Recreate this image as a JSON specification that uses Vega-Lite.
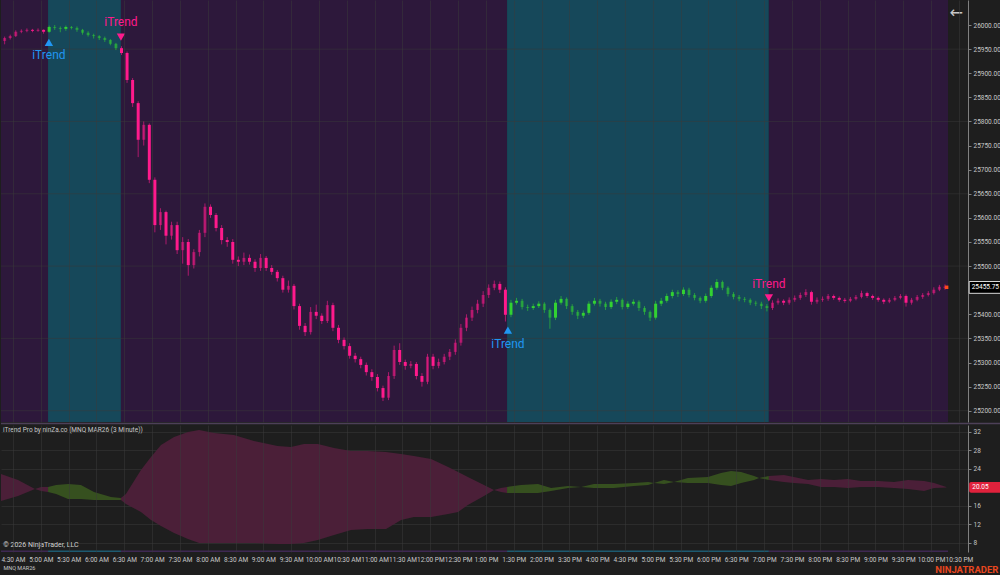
{
"$schema":"https://vega.github.io/schema/vega-lite/v6.json",
"background":"#1e1e1e",
"padding":0,
"spacing":3,
"bounds":"flush",
"config":{"view":{"stroke":null},"font":"Roboto","axis":{"labelOverlap":false}},
"datasets":{
"candles":[
{"b":-3,"o":25967,"h":25976,"l":25960,"c":25973,"t":"d"},
{"b":-1,"o":25973,"h":25980,"l":25970,"c":25977,"t":"d"},
{"b":1,"o":25977,"h":25989,"l":25975,"c":25986,"t":"d"},
{"b":3,"o":25986,"h":25991,"l":25983,"c":25988,"t":"d"},
{"b":5,"o":25988,"h":25993,"l":25985,"c":25990,"t":"d"},
{"b":7,"o":25990,"h":25992,"l":25985,"c":25988,"t":"d"},
{"b":9,"o":25988,"h":25993,"l":25986,"c":25990,"t":"d"},
{"b":11,"o":25990,"h":25991,"l":25982,"c":25986,"t":"d"},
{"b":13,"o":25986,"h":25999,"l":25984,"c":25996,"t":"u"},
{"b":15,"o":25996,"h":26000,"l":25990,"c":25994,"t":"u"},
{"b":17,"o":25994,"h":25997,"l":25985,"c":25992,"t":"u"},
{"b":19,"o":25992,"h":25999,"l":25988,"c":25996,"t":"u"},
{"b":21,"o":25996,"h":25998,"l":25991,"c":25994,"t":"u"},
{"b":23,"o":25994,"h":25997,"l":25986,"c":25990,"t":"u"},
{"b":25,"o":25990,"h":25992,"l":25980,"c":25984,"t":"u"},
{"b":27,"o":25984,"h":25987,"l":25976,"c":25979,"t":"u"},
{"b":29,"o":25979,"h":25982,"l":25972,"c":25977,"t":"u"},
{"b":31,"o":25977,"h":25979,"l":25969,"c":25973,"t":"u"},
{"b":33,"o":25973,"h":25976,"l":25965,"c":25969,"t":"u"},
{"b":35,"o":25969,"h":25971,"l":25958,"c":25961,"t":"u"},
{"b":37,"o":25961,"h":25963,"l":25948,"c":25952,"t":"u"},
{"b":39,"o":25952,"h":25956,"l":25938,"c":25942,"t":"d"},
{"b":41,"o":25942,"h":25945,"l":25880,"c":25886,"t":"d"},
{"b":43,"o":25886,"h":25890,"l":25830,"c":25838,"t":"d"},
{"b":45,"o":25838,"h":25842,"l":25726,"c":25762,"t":"d"},
{"b":47,"o":25762,"h":25800,"l":25750,"c":25793,"t":"d"},
{"b":49,"o":25793,"h":25796,"l":25672,"c":25679,"t":"d"},
{"b":51,"o":25679,"h":25684,"l":25570,"c":25585,"t":"d"},
{"b":53,"o":25585,"h":25620,"l":25575,"c":25612,"t":"d"},
{"b":55,"o":25612,"h":25615,"l":25545,"c":25563,"t":"d"},
{"b":57,"o":25563,"h":25592,"l":25555,"c":25585,"t":"d"},
{"b":59,"o":25585,"h":25592,"l":25525,"c":25533,"t":"d"},
{"b":61,"o":25533,"h":25560,"l":25505,"c":25550,"t":"d"},
{"b":63,"o":25550,"h":25556,"l":25480,"c":25502,"t":"d"},
{"b":65,"o":25502,"h":25535,"l":25495,"c":25529,"t":"d"},
{"b":67,"o":25529,"h":25575,"l":25520,"c":25569,"t":"d"},
{"b":69,"o":25569,"h":25630,"l":25560,"c":25623,"t":"d"},
{"b":71,"o":25623,"h":25628,"l":25600,"c":25606,"t":"d"},
{"b":73,"o":25606,"h":25610,"l":25572,"c":25579,"t":"d"},
{"b":75,"o":25579,"h":25585,"l":25545,"c":25554,"t":"d"},
{"b":77,"o":25554,"h":25560,"l":25540,"c":25550,"t":"d"},
{"b":79,"o":25550,"h":25556,"l":25505,"c":25513,"t":"d"},
{"b":81,"o":25513,"h":25520,"l":25500,"c":25509,"t":"d"},
{"b":83,"o":25509,"h":25528,"l":25502,"c":25517,"t":"d"},
{"b":85,"o":25517,"h":25524,"l":25503,"c":25509,"t":"d"},
{"b":87,"o":25509,"h":25514,"l":25488,"c":25496,"t":"d"},
{"b":89,"o":25496,"h":25525,"l":25490,"c":25517,"t":"d"},
{"b":91,"o":25517,"h":25521,"l":25490,"c":25496,"t":"d"},
{"b":93,"o":25496,"h":25502,"l":25482,"c":25488,"t":"d"},
{"b":95,"o":25488,"h":25492,"l":25468,"c":25475,"t":"d"},
{"b":97,"o":25475,"h":25480,"l":25445,"c":25451,"t":"d"},
{"b":99,"o":25451,"h":25470,"l":25445,"c":25459,"t":"d"},
{"b":101,"o":25459,"h":25463,"l":25410,"c":25417,"t":"d"},
{"b":103,"o":25417,"h":25422,"l":25368,"c":25376,"t":"d"},
{"b":105,"o":25376,"h":25382,"l":25355,"c":25363,"t":"d"},
{"b":107,"o":25363,"h":25415,"l":25358,"c":25405,"t":"d"},
{"b":109,"o":25405,"h":25420,"l":25390,"c":25397,"t":"d"},
{"b":111,"o":25397,"h":25402,"l":25380,"c":25386,"t":"d"},
{"b":113,"o":25386,"h":25428,"l":25382,"c":25419,"t":"d"},
{"b":115,"o":25419,"h":25424,"l":25365,"c":25372,"t":"d"},
{"b":117,"o":25372,"h":25378,"l":25340,"c":25347,"t":"d"},
{"b":119,"o":25347,"h":25352,"l":25327,"c":25334,"t":"d"},
{"b":121,"o":25334,"h":25340,"l":25308,"c":25314,"t":"d"},
{"b":123,"o":25314,"h":25320,"l":25300,"c":25307,"t":"d"},
{"b":125,"o":25307,"h":25312,"l":25288,"c":25295,"t":"d"},
{"b":127,"o":25295,"h":25300,"l":25273,"c":25280,"t":"d"},
{"b":129,"o":25280,"h":25286,"l":25262,"c":25270,"t":"d"},
{"b":131,"o":25270,"h":25276,"l":25240,"c":25247,"t":"d"},
{"b":133,"o":25247,"h":25252,"l":25220,"c":25227,"t":"d"},
{"b":135,"o":25227,"h":25280,"l":25222,"c":25272,"t":"d"},
{"b":137,"o":25272,"h":25335,"l":25266,"c":25326,"t":"d"},
{"b":139,"o":25326,"h":25340,"l":25295,"c":25301,"t":"d"},
{"b":141,"o":25301,"h":25306,"l":25285,"c":25293,"t":"d"},
{"b":143,"o":25293,"h":25303,"l":25288,"c":25297,"t":"d"},
{"b":145,"o":25297,"h":25301,"l":25265,"c":25272,"t":"d"},
{"b":147,"o":25272,"h":25278,"l":25250,"c":25260,"t":"d"},
{"b":149,"o":25260,"h":25318,"l":25255,"c":25312,"t":"d"},
{"b":151,"o":25312,"h":25318,"l":25286,"c":25293,"t":"d"},
{"b":153,"o":25293,"h":25308,"l":25288,"c":25301,"t":"d"},
{"b":155,"o":25301,"h":25318,"l":25296,"c":25312,"t":"d"},
{"b":157,"o":25312,"h":25328,"l":25305,"c":25322,"t":"d"},
{"b":159,"o":25322,"h":25348,"l":25316,"c":25341,"t":"d"},
{"b":161,"o":25341,"h":25380,"l":25335,"c":25372,"t":"d"},
{"b":163,"o":25372,"h":25400,"l":25365,"c":25393,"t":"d"},
{"b":165,"o":25393,"h":25416,"l":25386,"c":25409,"t":"d"},
{"b":167,"o":25409,"h":25430,"l":25402,"c":25422,"t":"d"},
{"b":169,"o":25422,"h":25448,"l":25415,"c":25440,"t":"d"},
{"b":171,"o":25440,"h":25462,"l":25434,"c":25455,"t":"d"},
{"b":173,"o":25455,"h":25470,"l":25450,"c":25463,"t":"d"},
{"b":175,"o":25463,"h":25468,"l":25444,"c":25451,"t":"d"},
{"b":177,"o":25451,"h":25456,"l":25385,"c":25399,"t":"d"},
{"b":179,"o":25399,"h":25430,"l":25394,"c":25424,"t":"u"},
{"b":181,"o":25424,"h":25434,"l":25420,"c":25428,"t":"u"},
{"b":183,"o":25428,"h":25432,"l":25410,"c":25415,"t":"u"},
{"b":185,"o":25415,"h":25420,"l":25407,"c":25413,"t":"u"},
{"b":187,"o":25413,"h":25422,"l":25409,"c":25417,"t":"u"},
{"b":189,"o":25417,"h":25427,"l":25413,"c":25422,"t":"u"},
{"b":191,"o":25422,"h":25425,"l":25403,"c":25409,"t":"u"},
{"b":193,"o":25409,"h":25412,"l":25370,"c":25393,"t":"u"},
{"b":195,"o":25393,"h":25430,"l":25388,"c":25424,"t":"u"},
{"b":197,"o":25424,"h":25438,"l":25420,"c":25432,"t":"u"},
{"b":199,"o":25432,"h":25435,"l":25411,"c":25417,"t":"u"},
{"b":201,"o":25417,"h":25421,"l":25399,"c":25405,"t":"u"},
{"b":203,"o":25405,"h":25409,"l":25390,"c":25397,"t":"u"},
{"b":205,"o":25397,"h":25408,"l":25392,"c":25403,"t":"u"},
{"b":207,"o":25403,"h":25427,"l":25399,"c":25422,"t":"u"},
{"b":209,"o":25422,"h":25434,"l":25418,"c":25428,"t":"u"},
{"b":211,"o":25428,"h":25432,"l":25416,"c":25422,"t":"u"},
{"b":213,"o":25422,"h":25426,"l":25409,"c":25415,"t":"u"},
{"b":215,"o":25415,"h":25431,"l":25411,"c":25426,"t":"u"},
{"b":217,"o":25426,"h":25436,"l":25421,"c":25430,"t":"u"},
{"b":219,"o":25430,"h":25433,"l":25410,"c":25415,"t":"u"},
{"b":221,"o":25415,"h":25427,"l":25411,"c":25422,"t":"u"},
{"b":223,"o":25422,"h":25431,"l":25418,"c":25426,"t":"u"},
{"b":225,"o":25426,"h":25429,"l":25407,"c":25413,"t":"u"},
{"b":227,"o":25413,"h":25417,"l":25399,"c":25405,"t":"u"},
{"b":229,"o":25405,"h":25408,"l":25386,"c":25393,"t":"u"},
{"b":231,"o":25393,"h":25428,"l":25389,"c":25422,"t":"u"},
{"b":233,"o":25422,"h":25434,"l":25417,"c":25428,"t":"u"},
{"b":235,"o":25428,"h":25443,"l":25424,"c":25438,"t":"u"},
{"b":237,"o":25438,"h":25451,"l":25433,"c":25446,"t":"u"},
{"b":239,"o":25446,"h":25450,"l":25436,"c":25442,"t":"u"},
{"b":241,"o":25442,"h":25456,"l":25438,"c":25451,"t":"u"},
{"b":243,"o":25451,"h":25455,"l":25435,"c":25440,"t":"u"},
{"b":245,"o":25440,"h":25444,"l":25429,"c":25434,"t":"u"},
{"b":247,"o":25434,"h":25437,"l":25423,"c":25428,"t":"u"},
{"b":249,"o":25428,"h":25443,"l":25424,"c":25438,"t":"u"},
{"b":251,"o":25438,"h":25460,"l":25434,"c":25455,"t":"u"},
{"b":253,"o":25455,"h":25473,"l":25451,"c":25467,"t":"u"},
{"b":255,"o":25467,"h":25470,"l":25450,"c":25455,"t":"u"},
{"b":257,"o":25455,"h":25458,"l":25437,"c":25442,"t":"u"},
{"b":259,"o":25442,"h":25446,"l":25431,"c":25436,"t":"u"},
{"b":261,"o":25436,"h":25440,"l":25427,"c":25432,"t":"u"},
{"b":263,"o":25432,"h":25436,"l":25425,"c":25430,"t":"u"},
{"b":265,"o":25430,"h":25433,"l":25419,"c":25424,"t":"u"},
{"b":267,"o":25424,"h":25428,"l":25417,"c":25422,"t":"u"},
{"b":269,"o":25422,"h":25426,"l":25411,"c":25417,"t":"u"},
{"b":271,"o":25417,"h":25421,"l":25406,"c":25413,"t":"u"},
{"b":273,"o":25413,"h":25429,"l":25409,"c":25424,"t":"d"},
{"b":275,"o":25424,"h":25433,"l":25420,"c":25428,"t":"d"},
{"b":277,"o":25428,"h":25431,"l":25419,"c":25424,"t":"d"},
{"b":279,"o":25424,"h":25435,"l":25420,"c":25430,"t":"d"},
{"b":281,"o":25430,"h":25439,"l":25426,"c":25434,"t":"d"},
{"b":283,"o":25434,"h":25445,"l":25430,"c":25440,"t":"d"},
{"b":285,"o":25440,"h":25452,"l":25436,"c":25446,"t":"d"},
{"b":287,"o":25446,"h":25449,"l":25420,"c":25426,"t":"d"},
{"b":289,"o":25426,"h":25435,"l":25422,"c":25430,"t":"d"},
{"b":291,"o":25430,"h":25437,"l":25426,"c":25432,"t":"d"},
{"b":293,"o":25432,"h":25442,"l":25428,"c":25438,"t":"d"},
{"b":295,"o":25438,"h":25441,"l":25430,"c":25434,"t":"d"},
{"b":297,"o":25434,"h":25437,"l":25426,"c":25430,"t":"d"},
{"b":299,"o":25430,"h":25434,"l":25424,"c":25428,"t":"d"},
{"b":301,"o":25428,"h":25436,"l":25425,"c":25432,"t":"d"},
{"b":303,"o":25432,"h":25440,"l":25429,"c":25436,"t":"d"},
{"b":305,"o":25436,"h":25449,"l":25433,"c":25444,"t":"d"},
{"b":307,"o":25444,"h":25447,"l":25434,"c":25438,"t":"d"},
{"b":309,"o":25438,"h":25441,"l":25430,"c":25434,"t":"d"},
{"b":311,"o":25434,"h":25437,"l":25426,"c":25430,"t":"d"},
{"b":313,"o":25430,"h":25433,"l":25421,"c":25426,"t":"d"},
{"b":315,"o":25426,"h":25434,"l":25423,"c":25430,"t":"d"},
{"b":317,"o":25430,"h":25438,"l":25427,"c":25434,"t":"d"},
{"b":319,"o":25434,"h":25442,"l":25431,"c":25438,"t":"d"},
{"b":321,"o":25438,"h":25441,"l":25416,"c":25424,"t":"d"},
{"b":323,"o":25424,"h":25434,"l":25420,"c":25430,"t":"d"},
{"b":325,"o":25430,"h":25440,"l":25427,"c":25436,"t":"d"},
{"b":327,"o":25436,"h":25444,"l":25432,"c":25440,"t":"d"},
{"b":329,"o":25440,"h":25448,"l":25437,"c":25444,"t":"d"},
{"b":331,"o":25444,"h":25456,"l":25441,"c":25451,"t":"d"},
{"b":333,"o":25451,"h":25461,"l":25448,"c":25457,"t":"d"},
{"b":335,"o":25457,"h":25462,"l":25451,"c":25455.75,"t":"d"}
],
"bands":[
{"s":-4.31,"e":12.6,"k":"d"},
{"s":12.6,"e":38.8,"k":"u"},
{"s":38.8,"e":177.6,"k":"d"},
{"s":177.6,"e":271.7,"k":"u"},
{"s":271.7,"e":336.1,"k":"d"}
],
"sig":[
{"b":12.9,"tri":25964,"lab":25938,"k":"u"},
{"b":38.8,"tri":25975,"lab":26006,"k":"d"},
{"b":177.9,"tri":25367,"lab":25338,"k":"u"},
{"b":271.7,"tri":25434,"lab":25463,"k":"d"}
],
"hgrid":[{"g":25200},{"g":25350},{"g":25500},{"g":25650},{"g":25800},{"g":25950}],
"ind":[
{"b":-4.31,"hi":22.92,"lo":17.08,"s":1,"k":"d"},
{"b":1.8,"hi":21.62,"lo":18.16,"s":1,"k":"d"},
{"b":7.9,"hi":19.68,"lo":19.68,"s":1,"k":"d"},
{"b":10.1,"hi":20.11,"lo":19.24,"s":1,"k":"d"},
{"b":12.6,"hi":20.11,"lo":19.03,"s":1,"k":"d"},
{"b":12.6,"hi":20.11,"lo":19.03,"s":2,"k":"u"},
{"b":15.5,"hi":20.54,"lo":18.59,"s":2,"k":"u"},
{"b":19.8,"hi":20.76,"lo":17.51,"s":2,"k":"u"},
{"b":24.4,"hi":20.54,"lo":17.51,"s":2,"k":"u"},
{"b":29.1,"hi":19.03,"lo":17.3,"s":2,"k":"u"},
{"b":35.2,"hi":17.95,"lo":17.3,"s":2,"k":"u"},
{"b":38.8,"hi":17.73,"lo":17.3,"s":2,"k":"u"},
{"b":38.8,"hi":17.73,"lo":17.3,"s":3,"k":"d"},
{"b":40.6,"hi":18.59,"lo":16.43,"s":3,"k":"d"},
{"b":46.0,"hi":23.78,"lo":14.7,"s":3,"k":"d"},
{"b":49.6,"hi":26.59,"lo":12.97,"s":3,"k":"d"},
{"b":53.2,"hi":29.19,"lo":11.68,"s":3,"k":"d"},
{"b":57.9,"hi":30.92,"lo":10.16,"s":3,"k":"d"},
{"b":62.9,"hi":32.0,"lo":8.86,"s":3,"k":"d"},
{"b":66.9,"hi":32.43,"lo":8.0,"s":3,"k":"d"},
{"b":72.3,"hi":31.78,"lo":8.0,"s":3,"k":"d"},
{"b":79.4,"hi":31.35,"lo":8.0,"s":3,"k":"d"},
{"b":86.6,"hi":30.05,"lo":8.0,"s":3,"k":"d"},
{"b":95.1,"hi":28.97,"lo":7.78,"s":3,"k":"d"},
{"b":99.9,"hi":28.76,"lo":7.78,"s":3,"k":"d"},
{"b":104.6,"hi":29.41,"lo":8.0,"s":3,"k":"d"},
{"b":109.6,"hi":29.41,"lo":8.65,"s":3,"k":"d"},
{"b":115.4,"hi":28.54,"lo":9.73,"s":3,"k":"d"},
{"b":121.5,"hi":27.89,"lo":10.81,"s":3,"k":"d"},
{"b":127.6,"hi":27.89,"lo":11.03,"s":3,"k":"d"},
{"b":134.1,"hi":27.68,"lo":11.03,"s":3,"k":"d"},
{"b":139.5,"hi":27.24,"lo":12.97,"s":3,"k":"d"},
{"b":144.1,"hi":26.81,"lo":13.62,"s":3,"k":"d"},
{"b":150.3,"hi":26.16,"lo":13.62,"s":3,"k":"d"},
{"b":156.4,"hi":24.43,"lo":14.27,"s":3,"k":"d"},
{"b":160.0,"hi":23.35,"lo":14.7,"s":3,"k":"d"},
{"b":163.5,"hi":22.27,"lo":16.22,"s":3,"k":"d"},
{"b":169.3,"hi":20.54,"lo":18.16,"s":3,"k":"d"},
{"b":172.9,"hi":19.46,"lo":19.46,"s":3,"k":"d"},
{"b":175.4,"hi":19.89,"lo":19.03,"s":3,"k":"d"},
{"b":177.6,"hi":20.11,"lo":18.81,"s":3,"k":"d"},
{"b":177.6,"hi":20.11,"lo":18.81,"s":4,"k":"u"},
{"b":182.6,"hi":20.54,"lo":18.81,"s":4,"k":"u"},
{"b":188.7,"hi":20.76,"lo":18.81,"s":4,"k":"u"},
{"b":193.4,"hi":19.89,"lo":19.24,"s":4,"k":"u"},
{"b":199.5,"hi":20.32,"lo":19.89,"s":4,"k":"u"},
{"b":204.2,"hi":20.11,"lo":20.11,"s":4,"k":"u"},
{"b":208.8,"hi":20.76,"lo":19.89,"s":4,"k":"u"},
{"b":216.0,"hi":20.76,"lo":19.89,"s":4,"k":"u"},
{"b":223.2,"hi":20.97,"lo":20.32,"s":4,"k":"u"},
{"b":228.3,"hi":21.19,"lo":20.54,"s":4,"k":"u"},
{"b":230.4,"hi":20.97,"lo":20.97,"s":4,"k":"u"},
{"b":234.0,"hi":21.62,"lo":20.76,"s":4,"k":"u"},
{"b":237.6,"hi":21.19,"lo":21.19,"s":4,"k":"u"},
{"b":242.6,"hi":22.05,"lo":20.97,"s":4,"k":"u"},
{"b":249.8,"hi":22.27,"lo":20.97,"s":4,"k":"u"},
{"b":254.5,"hi":23.14,"lo":20.54,"s":4,"k":"u"},
{"b":258.1,"hi":23.57,"lo":20.32,"s":4,"k":"u"},
{"b":261.7,"hi":23.35,"lo":20.97,"s":4,"k":"u"},
{"b":266.4,"hi":22.49,"lo":21.62,"s":4,"k":"u"},
{"b":268.2,"hi":22.05,"lo":22.05,"s":4,"k":"u"},
{"b":271.7,"hi":22.49,"lo":21.62,"s":4,"k":"u"},
{"b":271.7,"hi":22.49,"lo":21.62,"s":5,"k":"d"},
{"b":277.1,"hi":22.7,"lo":21.19,"s":5,"k":"d"},
{"b":280.7,"hi":22.27,"lo":20.97,"s":5,"k":"d"},
{"b":285.8,"hi":21.62,"lo":20.76,"s":5,"k":"d"},
{"b":290.4,"hi":21.84,"lo":20.11,"s":5,"k":"d"},
{"b":295.1,"hi":21.62,"lo":20.11,"s":5,"k":"d"},
{"b":300.1,"hi":21.84,"lo":19.89,"s":5,"k":"d"},
{"b":304.8,"hi":21.41,"lo":20.11,"s":5,"k":"d"},
{"b":311.0,"hi":21.41,"lo":20.11,"s":5,"k":"d"},
{"b":316.7,"hi":21.19,"lo":19.89,"s":5,"k":"d"},
{"b":321.7,"hi":21.62,"lo":19.68,"s":5,"k":"d"},
{"b":327.5,"hi":21.41,"lo":19.24,"s":5,"k":"d"},
{"b":331.1,"hi":20.97,"lo":19.89,"s":5,"k":"d"},
{"b":335.5,"hi":20.1,"lo":20.0,"s":5,"k":"d"}
]
},
"vconcat":[
{
"width":967,"height":422,
"layer":[
{"data":{"name":"bands"},"mark":{"type":"rect"},
 "encoding":{
  "x":{"field":"s","type":"quantitative","scale":{"domain":[-4.31,343.28],"nice":false,"zero":false},
   "axis":{"values":[0,10,20,30,40,50,60,70,80,90,100,110,120,130,140,150,160,170,180,190,200,210,220,230,240,250,260,270,280,290,300,310,320,330,340],"tickCount":100,"labels":false,"ticks":false,"domain":false,"grid":true,"gridColor":"#3a3a3a","gridOpacity":0.5,"title":null,"zindex":1}},
  "x2":{"field":"e"},
  "color":{"condition":{"test":"datum.k=='u'","value":"#16485a"},"value":"#2d183b"}}},
{"data":{"name":"hgrid"},"mark":{"type":"rule","color":"#3a3a3a","opacity":0.5,"strokeWidth":1},
 "encoding":{"y":{"field":"g","type":"quantitative"}}},
{"data":{"values":[{}]},"mark":{"type":"rule","color":"#4d4058","strokeWidth":1.5},
 "encoding":{"y":{"datum":25173.5},"x":{"datum":-4.31},"x2":{"datum":356}}},
{"data":{"name":"candles"},"mark":{"type":"rule","strokeWidth":1,"opacity":0.6},
 "encoding":{
  "x":{"field":"b","type":"quantitative"},
  "y":{"field":"l","type":"quantitative","scale":{"domain":[25176.6,26051.9],"nice":false,"zero":false},
   "axis":{"orient":"right","values":[25200,25250,25300,25350,25400,25500,25550,25600,25650,25700,25750,25800,25850,25900,25950,26000],"tickCount":100,"format":".2f","grid":false,"title":null,"labelFontSize":6.5,"labelColor":"#c8c8c8","labelFont":"Roboto","tickSize":3,"tickColor":"#808080","domainColor":"#808080","labelPadding":2}},
  "y2":{"field":"h"},
  "color":{"condition":{"test":"datum.t=='u'","value":"#32d232"},"value":"#ff1a8c"}}},
{"data":{"name":"candles"},"mark":{"type":"rule","strokeWidth":3,"strokeCap":"butt"},
 "encoding":{
  "x":{"field":"b","type":"quantitative"},
  "y":{"field":"o","type":"quantitative"},
  "y2":{"field":"c"},
  "color":{"condition":{"test":"datum.t=='u'","value":"#32d232"},"value":"#ff1a8c"},
  "opacity":{"condition":{"test":"(datum.t=='d' && datum.c<datum.o) || (datum.t=='u' && datum.c>datum.o)","value":1},"value":0.5}}},
{"data":{"name":"sig"},"mark":{"type":"point","filled":true,"opacity":1,"size":70},
 "encoding":{
  "x":{"field":"b","type":"quantitative"},
  "y":{"field":"tri","type":"quantitative"},
  "shape":{"condition":{"test":"datum.k=='u'","value":"triangle-up"},"value":"triangle-down"},
  "color":{"condition":{"test":"datum.k=='u'","value":"#2196f3"},"value":"#ff1a8c"}}},
{"data":{"name":"sig"},"mark":{"type":"text","fontSize":12,"font":"Roboto","align":"center","baseline":"middle"},
 "encoding":{
  "x":{"field":"b","type":"quantitative"},
  "y":{"field":"lab","type":"quantitative"},
  "text":{"value":"iTrend"},
  "color":{"condition":{"test":"datum.k=='u'","value":"#2196f3"},"value":"#ff1a8c"}}},
{"data":{"values":[{}]},"mark":{"type":"rect","fill":"#000000","stroke":"#d8d8d8","strokeWidth":1},
 "encoding":{"x":{"datum":343.7},"x2":{"datum":355.5},"y":{"datum":25443.5},"y2":{"datum":25468}}},
{"data":{"values":[{}]},"mark":{"type":"text","fontSize":6.5,"font":"Roboto","color":"#ffffff","align":"left","baseline":"middle"},
 "encoding":{"x":{"datum":344.6},"y":{"datum":25455.75},"text":{"value":"25455.75"}}},
{"data":{"values":[{}]},"mark":{"type":"point","filled":true,"shape":"square","size":12,"color":"#ff4a1a","opacity":1},
 "encoding":{"x":{"datum":335.6},"y":{"datum":25456}}},
{"data":{"values":[{}]},"mark":{"type":"text","fontSize":16,"font":"DejaVu Sans","color":"#c8c8c8","align":"center","baseline":"middle"},
 "encoding":{"x":{"datum":339},"y":{"datum":26025},"text":{"value":"←"}}}
]
},
{
"width":967,"height":127,
"layer":[
{"data":{"name":"bands"},"mark":{"type":"rect"},
 "encoding":{
  "x":{"field":"s","type":"quantitative","scale":{"domain":[-4.31,343.28],"nice":false,"zero":false},
   "axis":{"values":[0,10,20,30,40,50,60,70,80,90,100,110,120,130,140,150,160,170,180,190,200,210,220,230,240,250,260,270,280,290,300,310,320,330,340],"tickCount":100,
    "labelExpr":"['4:30 AM','5:00 AM','5:30 AM','6:00 AM','6:30 AM','7:00 AM','7:30 AM','8:00 AM','8:30 AM','9:00 AM','9:30 AM','10:00 AM','10:30 AM','11:00 AM','11:30 AM','12:00 PM','12:30 PM','1:00 PM','1:30 PM','2:00 PM','3:30 PM','4:00 PM','4:30 PM','5:00 PM','5:30 PM','6:00 PM','6:30 PM','7:00 PM','7:30 PM','8:00 PM','8:30 PM','9:00 PM','9:30 PM','10:00 PM','10:30 PM'][round(datum.value/10)]",
    "labelOverlap":false,"labelFontSize":6.5,"labelFont":"Roboto","labelColor":"#c8c8c8","labelPadding":4,"ticks":false,"domain":false,"grid":true,"gridColor":"#3a3a3a","gridOpacity":0.5,"zindex":1,
    "title":"MNQ MAR26","titleAnchor":"start","titleAlign":"left","titleX":2,"titleFontSize":5.5,"titleFontWeight":"normal","titleColor":"#c8c8c8","titleFont":"Roboto","titlePadding":3}},
  "x2":{"field":"e"},
  "y":{"datum":6.05,"type":"quantitative","scale":{"domain":[6.05,33.51],"nice":false,"zero":false},
   "axis":{"orient":"right","values":[8,12,16,24,28,32],"tickCount":100,"format":"d","grid":true,"gridColor":"#3a3a3a","gridOpacity":0.5,"title":null,"labelFontSize":6.5,"labelColor":"#c8c8c8","labelFont":"Roboto","tickSize":3,"tickColor":"#808080","domainColor":"#808080","labelPadding":2}},
  "y2":{"datum":6.4},
  "color":{"condition":{"test":"datum.k=='u'","value":"#1d5a70"},"value":"#3e2852"}}},
{"data":{"name":"ind"},"mark":{"type":"area","opacity":1},
 "encoding":{
  "x":{"field":"b","type":"quantitative"},
  "y":{"field":"hi","type":"quantitative"},
  "y2":{"field":"lo"},
  "detail":{"field":"s","type":"nominal"},
  "color":{"condition":{"test":"datum.k=='u'","value":"#36501f"},"value":"#4b1f38"}}},
{"data":{"values":[{}]},"mark":{"type":"text","fontSize":6.5,"font":"Roboto","color":"#c8c8c8","align":"left","baseline":"middle"},
 "encoding":{"x":{"datum":-3.6},"y":{"datum":32.4},"text":{"value":"iTrend Pro by ninZa.co (MNQ MAR26 (3 Minute))"}}},
{"data":{"values":[{}]},"mark":{"type":"text","fontSize":7,"font":"Roboto","color":"#d0d0d0","align":"left","baseline":"middle"},
 "encoding":{"x":{"datum":-3.5},"y":{"datum":7.6},"text":{"value":"© 2026 NinjaTrader, LLC"}}},
{"data":{"values":[{}]},"mark":{"type":"rect","fill":"#e0223c","cornerRadius":2},
 "encoding":{"x":{"datum":343.7},"x2":{"datum":355.5},"y":{"datum":18.85},"y2":{"datum":21.2}}},
{"data":{"values":[{}]},"mark":{"type":"text","fontSize":6.5,"font":"Roboto","color":"#ffffff","align":"left","baseline":"middle"},
 "encoding":{"x":{"datum":344.8},"y":{"datum":20.05},"text":{"value":"20.05"}}},
{"data":{"values":[{}]},"mark":{"type":"text","fontSize":9.5,"font":"Roboto","fontWeight":"bold","color":"#e8461e","align":"right","baseline":"middle"},
 "encoding":{"x":{"datum":354.2},"y":{"datum":2.2},"text":{"value":"NINJATRADER"}}}
]
}
]
}
